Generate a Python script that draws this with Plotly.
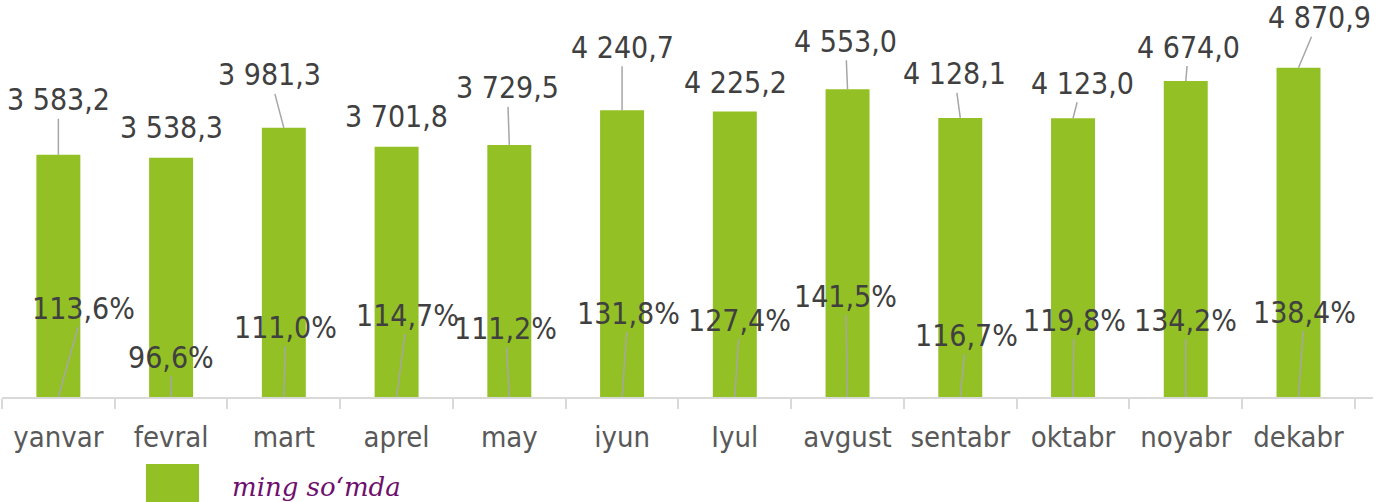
import plotly.graph_objects as go

# ---- data ----
months = ["yanvar", "fevral", "mart", "aprel", "may", "iyun",
          "Iyul", "avgust", "sentabr", "oktabr", "noyabr", "dekabr"]
values = [3583.2, 3538.3, 3981.3, 3701.8, 3729.5, 4240.7,
          4225.2, 4553.0, 4128.1, 4123.0, 4674.0, 4870.9]
growth = [113.6, 96.6, 111.0, 114.7, 111.2, 131.8,
          127.4, 141.5, 116.7, 119.8, 134.2, 138.4]
series_name = "ming so‘mda"

# ---- label placement (pixel offsets of label centre from its anchor) ----
val_ax = [0, 0, -14, 0, -2, 0, 1, -2, -6, 9, 3, 21]
val_ay = [-55, -30, -53, -30, -57, -63, -29, -48, -44, -35, -34, -50]
val_leader = [True, False, True, False, True, True, False, True, True, True, True, True]
pct_ax = [25, 0, 2, 11, -4, 6, 5, -2, 6, 1, 0, 6]
pct_ay = [-89, -40, -70, -82, -69, -84, -77, -101, -62, -77, -77, -85]

BAR = "#93C125"
TXT = "#404040"
LEAD = "#A6A6A6"
FONT = "DejaVu Sans Condensed, DejaVu Sans, sans-serif"

def fmt_val(v):
    return f"{v:,.1f}".replace(",", " ").replace(".", ",")

def fmt_pct(p):
    return f"{p:.1f}%".replace(".", ",")

fig = go.Figure()
fig.add_trace(go.Bar(x=months, y=values, name=series_name,
                     marker=dict(color=BAR, line=dict(width=0)),
                     width=0.39, showlegend=False, hoverinfo="skip"))

annotations = []
for i, m in enumerate(months):
    annotations.append(dict(
        x=m, y=values[i], xref="x", yref="y", text=fmt_val(values[i]),
        showarrow=True, ax=val_ax[i], ay=val_ay[i], arrowhead=0,
        arrowwidth=1.5, arrowcolor=LEAD if val_leader[i] else "rgba(0,0,0,0)",
        font=dict(family=FONT, size=30, color=TXT)))
    annotations.append(dict(
        x=m, y=0, xref="x", yref="y", text=fmt_pct(growth[i]),
        showarrow=True, ax=pct_ax[i], ay=pct_ay[i], arrowhead=0,
        arrowwidth=1.5, arrowcolor=LEAD,
        font=dict(family=FONT, size=30, color=TXT)))

# manual legend (large swatch + italic label)
annotations.append(dict(
    x=0.1665, y=-0.226, xref="paper", yref="paper", xanchor="left", yanchor="middle",
    text="<i>" + series_name + "</i>", showarrow=False,
    font=dict(family="DejaVu Serif, serif", size=26, color="#6E0F6E")))

fig.update_layout(
    width=1391, height=502,
    margin=dict(l=2, r=18, t=0, b=105),
    paper_bgcolor="white", plot_bgcolor="white",
    bargap=0.61,
    xaxis=dict(showline=True, linecolor="#D9D9D9", linewidth=2,
               ticks="outside", tickson="boundaries", ticklen=10,
               tickwidth=2, tickcolor="#D9D9D9", ticklabelstandoff=13,
               tickfont=dict(family=FONT, size=29, color="#595959"),
               showgrid=False, zeroline=False, fixedrange=True),
    yaxis=dict(visible=False, range=[0, 5873], showgrid=False,
               zeroline=False, fixedrange=True),
    annotations=annotations,
    shapes=[dict(type="rect", xref="paper", yref="paper",
                 x0=0.105, x1=0.1437, y0=-0.29, y1=-0.169,
                 fillcolor=BAR, line=dict(width=0), layer="above")],
    showlegend=False,
)

fig.write_html("out.html", config={"displayModeBar": False},
               post_script="document.body.style.margin='0';")
